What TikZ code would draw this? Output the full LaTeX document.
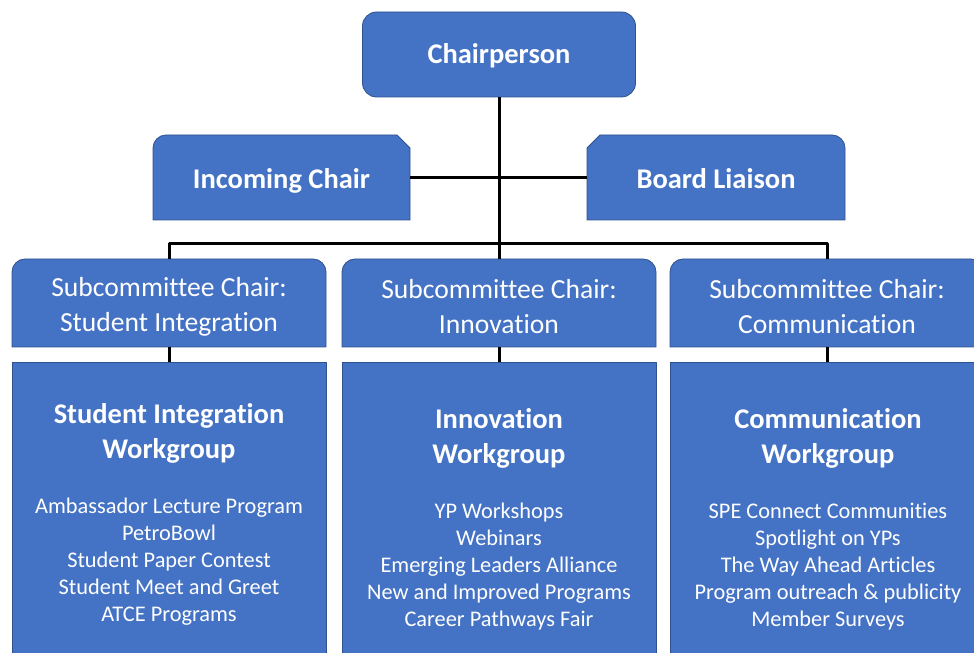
\documentclass[tikz,border=0pt]{standalone}
\usepackage{fontspec}
\setmainfont{Carlito}[Ligatures=CommonOff]
\usetikzlibrary{backgrounds}
\definecolor{boxblue}{HTML}{4472C4}
\definecolor{boxline}{HTML}{2F528F}
\newcommand{\headfont}{\bfseries\fontsize{28.5bp}{35bp}\selectfont}
\newcommand{\subfont}{\fontsize{27.6bp}{35bp}\selectfont}
\newcommand{\listfont}{\fontsize{22.35bp}{27bp}\selectfont}

\begin{document}
\begin{tikzpicture}[line join=bevel,
  plate/.style={fill=boxblue,draw=boxline,line width=0.8bp},
  shell/.style={draw=none,inner sep=0pt,outer sep=0pt,text=white,align=center},
  link/.style={black,line width=3bp}]
\useasboundingbox (0bp,0bp) rectangle (974bp,653bp);
%% boxes
\node (chair) at (499bp,598.5bp) [shell,plate,rounded corners=14bp,minimum width=273bp,minimum height=85bp] {};
  \node (inc) at (281.5bp,475.5bp) [shell,minimum width=257bp,minimum height=85bp] {};
  \node (board) at (716bp,475.5bp) [shell,minimum width=258bp,minimum height=85bp] {};
  \node (sub1) at (169bp,350bp) [shell,minimum width=314bp,minimum height=88bp] {};
  \node (sub2) at (499bp,350bp) [shell,minimum width=314bp,minimum height=88bp] {};
  \node (sub3) at (827bp,350bp) [shell,minimum width=314bp,minimum height=88bp] {};
  \node (wg1) at (169bp,130.5bp) [shell,plate,minimum width=314bp,minimum height=321bp] {};
  \node (wg2) at (499bp,130.5bp) [shell,plate,minimum width=314bp,minimum height=321bp] {};
  \node (wg3) at (827bp,130.5bp) [shell,plate,minimum width=314bp,minimum height=321bp] {};
%% texts
\node (chairtext) at (499bp,597.5bp) [shell,font=\headfont] {Chairperson};
  \node (inctext) at (281.5bp,472.5bp) [shell,font=\headfont] {Incoming Chair};
  \node (boardtext) at (716bp,474.5bp) [shell,font=\headfont] {Board Liaison};
  \node (sub1text) at (169bp,346.5bp) [shell,font=\subfont] {Subcommittee Chair:\\Student Integration};
  \node (sub2text) at (499bp,346.5bp) [shell,font=\subfont] {Subcommittee Chair:\\Innovation};
  \node (sub3text) at (827bp,346.5bp) [shell,font=\subfont] {Subcommittee Chair:\\Communication};
  \node (wg1head) at (169bp,219.5bp) [shell,font=\headfont] {Student Integration\\Workgroup};
  \node (wg2head) at (499bp,214.5bp) [shell,font=\headfont] {Innovation\\Workgroup};
  \node (wg3head) at (828bp,214.5bp) [shell,font=\headfont] {Communication\\Workgroup};
  \node (wg1list) at (169bp,91bp) [shell,font=\listfont] {Ambassador Lecture Program\\PetroBowl\\Student Paper Contest\\Student Meet and Greet\\ATCE Programs};
  \node (wg2list) at (499bp,86bp) [shell,font=\listfont] {YP Workshops\\Webinars\\Emerging Leaders Alliance\\New and Improved Programs\\Career Pathways Fair};
  \node (wg3list) at (828bp,86bp) [shell,font=\listfont] {SPE Connect Communities\\Spotlight on YPs\\The Way Ahead Articles\\Program outreach \& publicity\\Member Surveys};
%
\begin{scope}[on background layer]
  \path [plate] (inc.south west) -- ([yshift=-13bp]inc.north west) arc[start angle=180,end angle=90,radius=13bp] -- ([xshift=-13bp]inc.north east) -- ([yshift=-13bp]inc.north east) -- (inc.south east) -- cycle;
  \path [plate] (board.south west) -- ([yshift=-13bp]board.north west) -- ([xshift=13bp]board.north west) -- ([xshift=-13bp]board.north east) arc[start angle=90,end angle=0,radius=13bp] -- (board.south east) -- cycle;
  \foreach \s in {sub1,sub2,sub3}
    \path [plate] (\s.south west) -- ([yshift=-13bp]\s.north west) arc[start angle=180,end angle=90,radius=13bp] -- ([xshift=-13bp]\s.north east) arc[start angle=90,end angle=0,radius=13bp] -- (\s.south east) -- cycle;
\end{scope}
%
  \draw [link] (chair.south) -- (sub2.north);
  \draw [link] (inc.east) -- (board.west);
  \draw [link] (sub1.north) -- ++(0bp,15bp) -| (sub3.north);
  \draw [link] (sub1.south) -- (wg1.north);
  \draw [link] (sub2.south) -- (wg2.north);
  \draw [link] (sub3.south) -- (wg3.north);
%
\end{tikzpicture}
\end{document}
